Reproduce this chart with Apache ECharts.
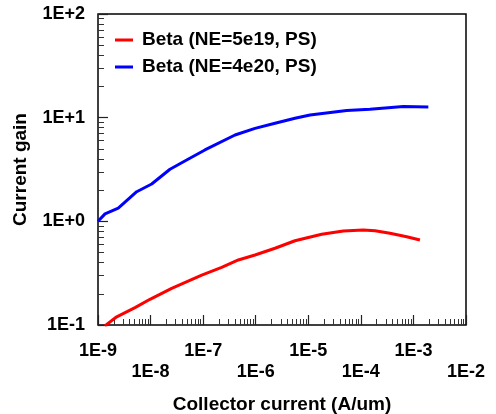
<!DOCTYPE html>
<html>
<head>
<meta charset="utf-8">
<script src="https://cdn.jsdelivr.net/npm/echarts@6/dist/echarts.min.js"></script>
<style>
  html, body { margin: 0; padding: 0; background: #fff; }
  #chart { width: 496px; height: 414px; }
</style>
</head>
<body>
<div id="chart"></div>
<script>
// Current gain vs collector current, two emitter dopings
const seriesNames = ['Beta (NE=5e19, PS)', 'Beta (NE=4e20, PS)'];

const lowDopingCurrent = [1.35e-9, 2.27e-9, 5.06e-9, 9.75e-9, 2.52e-8, 9.4e-8, 2.25e-7, 4.67e-7, 9.7e-7, 2.33e-6, 5.58e-6, 1.8e-5, 4.63e-5, 1.11e-4, 1.86e-4, 3.58e-4, 7.45e-4, 1.33e-3];
const lowDopingGain    = [0.098, 0.120, 0.147, 0.177, 0.226, 0.303, 0.360, 0.424, 0.473, 0.550, 0.650, 0.750, 0.806, 0.824, 0.812, 0.766, 0.711, 0.661];

const highDopingCurrent = [1.0e-9, 1.36e-9, 2.43e-9, 5.45e-9, 1.05e-8, 2.34e-8, 4.86e-8, 1.08e-7, 4.04e-7, 9.7e-7, 2.33e-6, 5.58e-6, 1.08e-5, 5.38e-5, 1.49e-4, 6.43e-4, 1.92e-3];
const highDopingGain    = [1.0, 1.18, 1.34, 1.93, 2.29, 3.18, 3.90, 4.88, 6.80, 7.89, 8.82, 9.86, 10.6, 11.7, 12.05, 12.8, 12.7];

// Decade and minor tick positions
const xDecades = [-9, -8, -7, -6, -5, -4, -3, -2];
const yDecades = [-1, 0, 1, 2];
const minorMultipliers = [2, 3, 4, 5, 6, 7, 8, 9];

const toPairs = (xs, ys) => xs.map((x, i) => [x, ys[i]]);
const decadeValues = exps => exps.map(e => Math.pow(10, e));
const minorValues = exps => {
  const out = [];
  exps.slice(0, -1).forEach(e => minorMultipliers.forEach(m => out.push(m * Math.pow(10, e))));
  return out;
};
const expOf = v => Math.round(Math.log10(v));

const FONT = '"Liberation Sans", Arial, Helvetica, sans-serif';
const INK = '#000';

const chart = echarts.init(document.getElementById('chart'), null, { renderer: 'canvas' });

const xMin = Math.pow(10, xDecades[0]), xMax = Math.pow(10, xDecades[xDecades.length - 1]);
const yMin = Math.pow(10, yDecades[0]), yMax = Math.pow(10, yDecades[yDecades.length - 1]);

const plotBox = { left: 98, right: 30, top: 14, bottom: 89, containLabel: false, outerBoundsMode: 'none' };

// Log axis used only for minor ticks (drawn in an overlay grid)
const minorAxis = (extentMin, extentMax, exps, pos) => ({
  type: 'log', logBase: 10, min: extentMin, max: extentMax, gridIndex: 1, position: pos,
  axisLine: { show: false },
  splitLine: { show: false },
  axisTick: { inside: true, length: 6, lineStyle: { color: '#333', width: 1 }, customValues: minorValues(exps) },
  axisLabel: { show: false }
});

chart.setOption({
  animation: false,
  backgroundColor: '#fff',
  grid: [
    Object.assign({ show: true, borderColor: INK, borderWidth: 1.5, backgroundColor: 'transparent' }, plotBox),
    Object.assign({ show: false }, plotBox)
  ],
  legend: {
    orient: 'vertical',
    left: 110, top: 25,
    icon: 'rect',
    itemWidth: 18, itemHeight: 3,
    itemGap: 7,
    textStyle: { fontFamily: FONT, fontWeight: 'bold', fontSize: 19, color: INK, lineHeight: 20, padding: [0, 0, 0, 4] },
    data: seriesNames
  },
  xAxis: [
    {
      type: 'log', logBase: 10, min: xMin, max: xMax, gridIndex: 0, position: 'bottom',
      axisLine: { show: false },
      splitLine: { show: false },
      axisTick: { inside: true, length: 10, lineStyle: { color: '#222', width: 1.2 }, customValues: decadeValues(xDecades) },
      axisLabel: {
        customValues: decadeValues(xDecades),
        margin: 16,
        fontFamily: FONT, fontWeight: 'bold', fontSize: 18, color: INK, lineHeight: 21,
        formatter: v => {
          const e = expOf(v);
          const txt = '1E' + e;
          return (e % 2 === 0) ? '\n' + txt : txt;
        }
      },
      name: 'Collector current (A/um)',
      nameLocation: 'middle',
      nameGap: 70,
      nameTextStyle: { fontFamily: FONT, fontWeight: 'bold', fontSize: 19, color: INK }
    },
    minorAxis(xMin, xMax, xDecades, 'bottom')
  ],
  yAxis: [
    {
      type: 'log', logBase: 10, min: yMin, max: yMax, gridIndex: 0, position: 'left',
      axisLine: { show: false },
      splitLine: { show: false },
      axisTick: { inside: true, length: 10, lineStyle: { color: '#222', width: 1.2 }, customValues: decadeValues(yDecades) },
      axisLabel: {
        customValues: decadeValues(yDecades),
        margin: 13,
        fontFamily: FONT, fontWeight: 'bold', fontSize: 18, color: INK,
        formatter: v => {
          const e = expOf(v);
          return '1E' + (e >= 0 ? '+' + e : e);
        }
      },
      name: 'Current gain',
      nameLocation: 'middle',
      nameGap: 68,
      nameTextStyle: { fontFamily: FONT, fontWeight: 'bold', fontSize: 19, color: INK }
    },
    minorAxis(yMin, yMax, yDecades, 'left')
  ],
  series: [
    {
      name: seriesNames[0], type: 'line', xAxisIndex: 0, yAxisIndex: 0,
      data: toPairs(lowDopingCurrent, lowDopingGain),
      showSymbol: false, symbol: 'none', clip: true,
      lineStyle: { color: '#ff0000', width: 3 },
      itemStyle: { color: '#ff0000' }
    },
    {
      name: seriesNames[1], type: 'line', xAxisIndex: 0, yAxisIndex: 0,
      data: toPairs(highDopingCurrent, highDopingGain),
      showSymbol: false, symbol: 'none', clip: true,
      lineStyle: { color: '#0000ff', width: 3 },
      itemStyle: { color: '#0000ff' }
    }
  ]
});
</script>
</body>
</html>
